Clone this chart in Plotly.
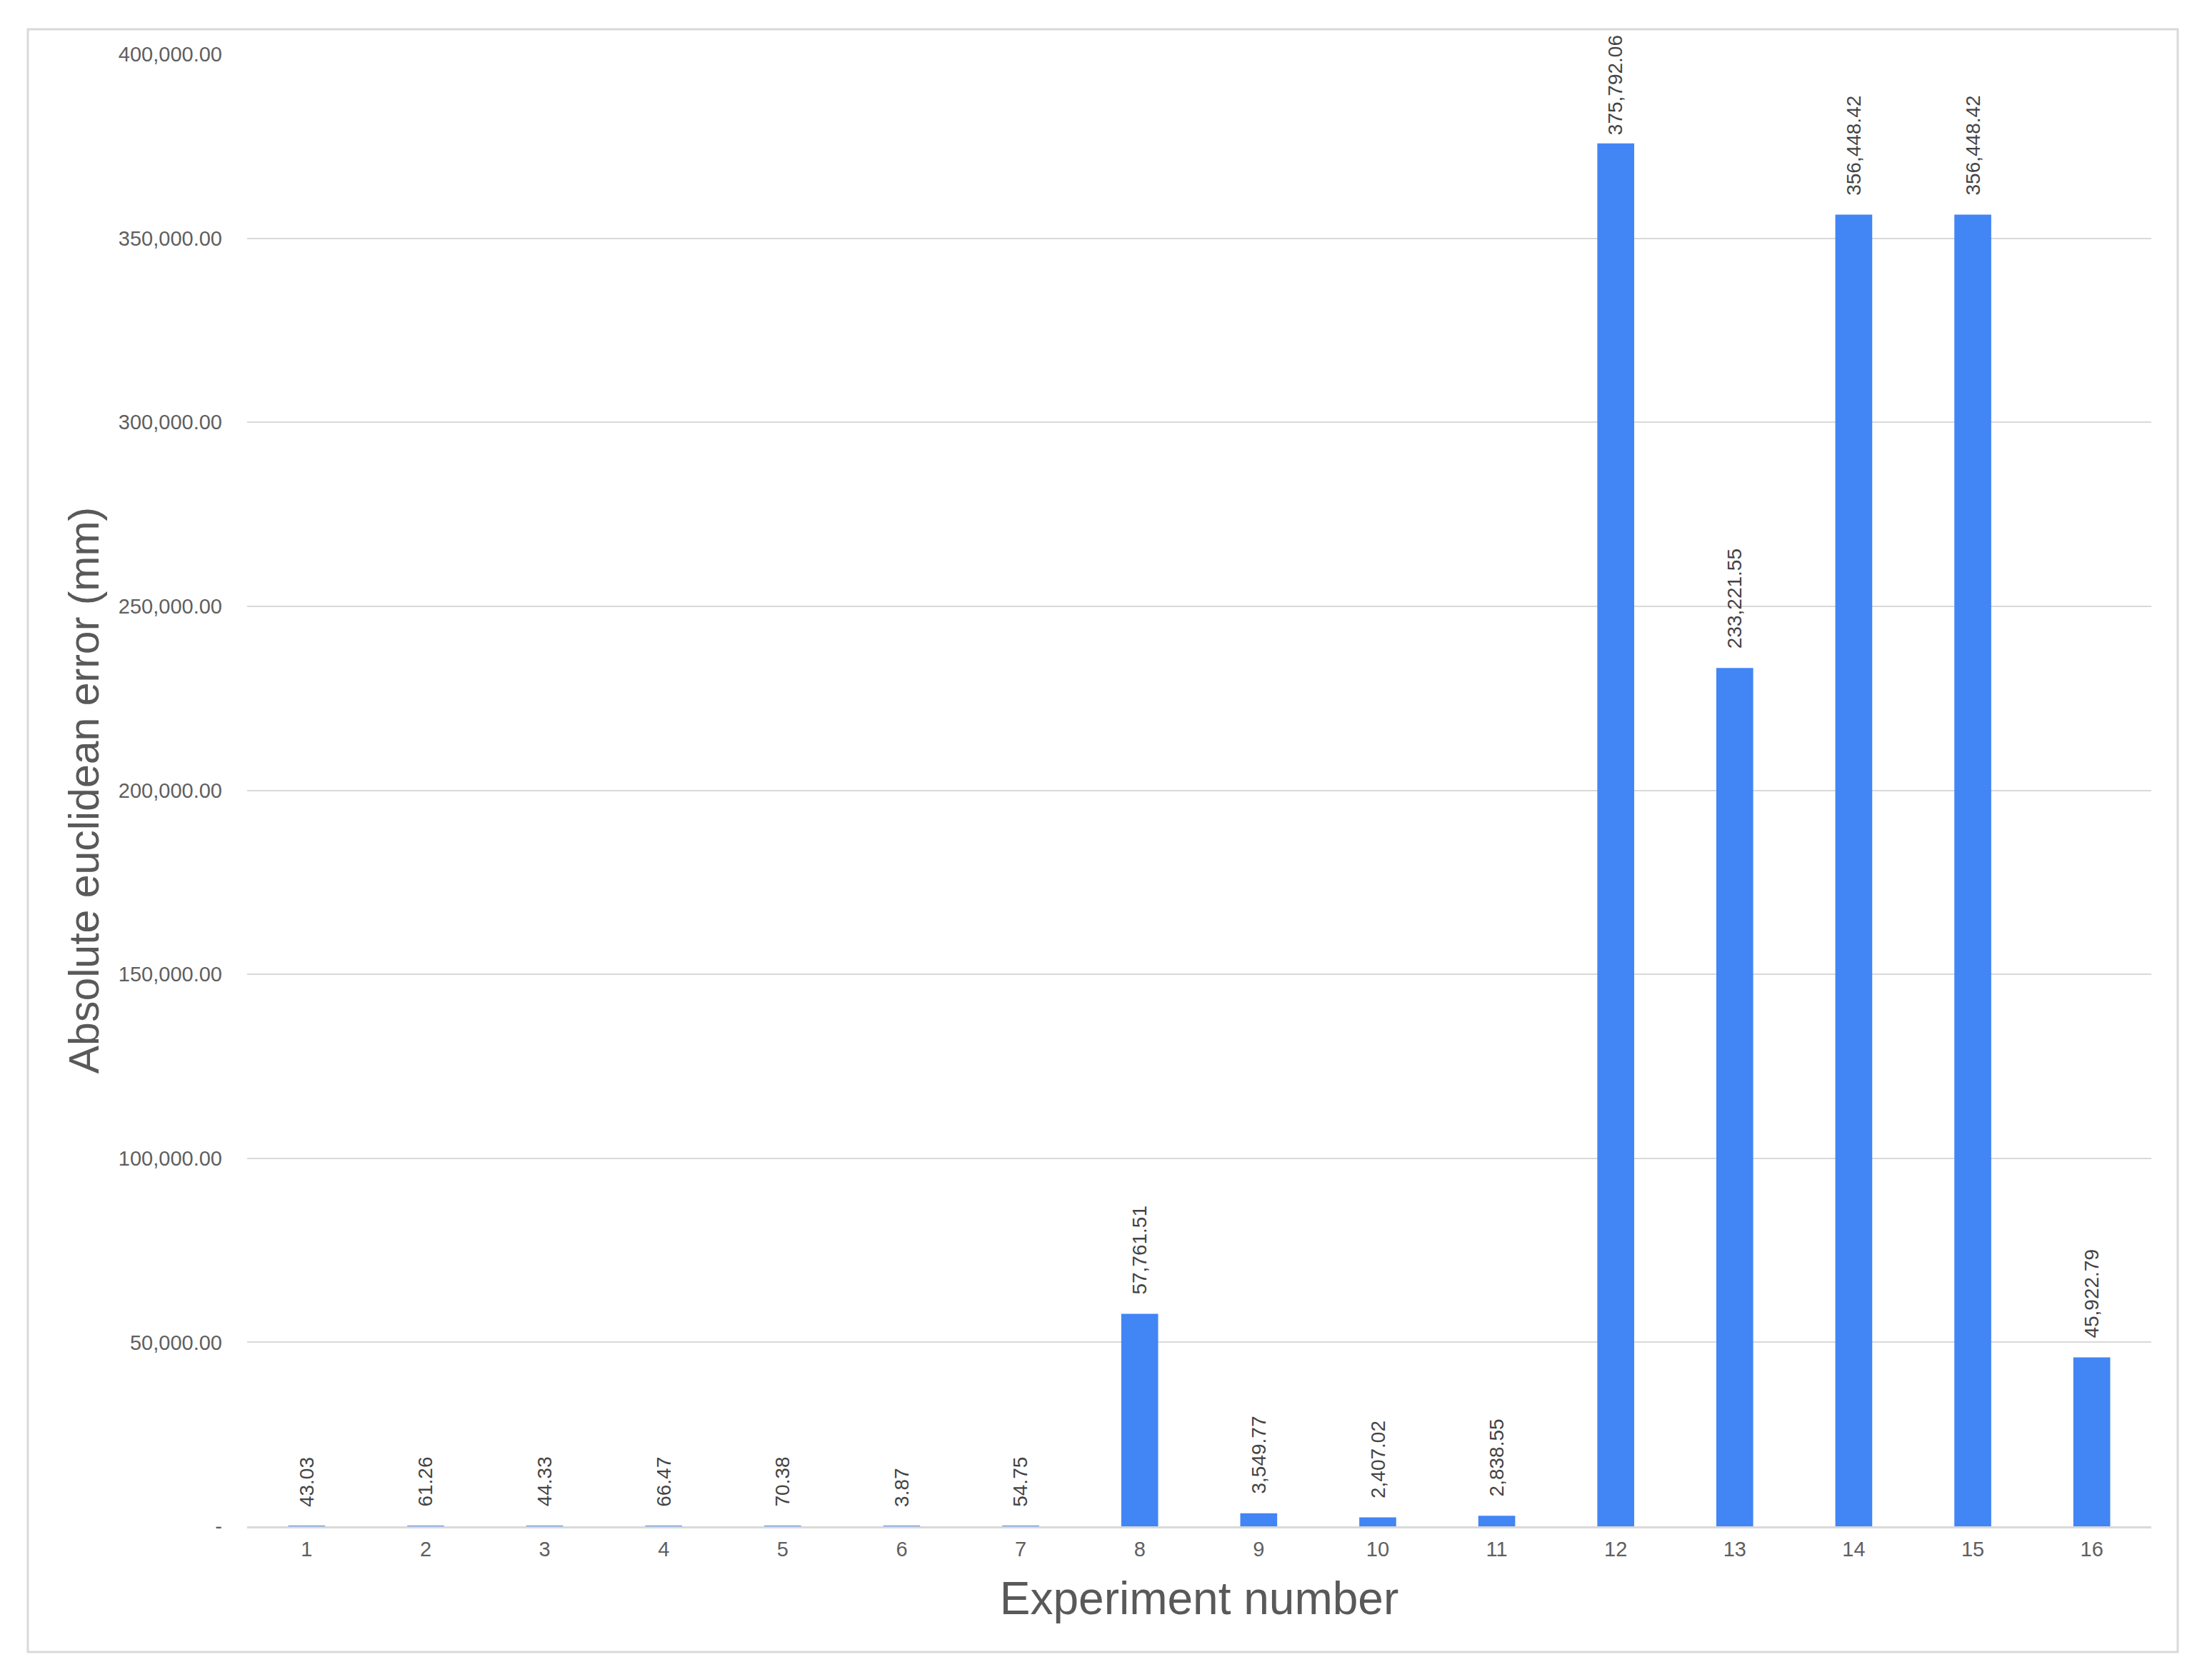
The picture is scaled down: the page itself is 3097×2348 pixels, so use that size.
import plotly.graph_objects as go

experiments = [str(i) for i in range(1, 17)]
errors_mm = [43.03, 61.26, 44.33, 66.47, 70.38, 3.87, 54.75, 57761.51,
             3549.77, 2407.02, 2838.55, 375792.06, 233221.55, 356448.42,
             356448.42, 45922.79]
ytick_vals = [0, 50000, 100000, 150000, 200000, 250000, 300000, 350000, 400000]
ytick_text = ["-"] + [f"{v:,.2f}" for v in ytick_vals[1:]]

W, H = 3097, 2348
ml, mr, mt, mb = 338, 93, 68, 219   # page body adds an 8px offset
grey = "#d9d9d9"
font = "Liberation Sans, Arial, sans-serif"
y_max = 400000

fig = go.Figure()
fig.add_trace(go.Bar(
    x=experiments, y=errors_mm,
    marker=dict(color="#4285F4", line=dict(width=0)),
    hoverinfo="x+y",
))

# value labels, rotated, sitting a little above each bar;
# pushed down toward the bar when they would run past the top of the chart
ph = H - mt - mb
label_len = 140
for i, v in enumerate(errors_mm):
    room = (y_max - v) / y_max * ph + mt - 43 - label_len
    shift = max(4, min(25, room))
    fig.add_annotation(
        x=i, y=v, text=f"{v:,.2f}", textangle=-90,
        showarrow=False, xanchor="center", yanchor="bottom", yshift=shift,
        font=dict(family=font, size=28, color="#444444"),
    )

# outer light-grey frame around the whole chart
pw = W - ml - mr
fig.add_shape(
    type="rect", xref="paper", yref="paper",
    x0=(31 - ml) / pw, x1=(3041 - ml) / pw,
    y0=(H - mb - 2305) / ph, y1=(H - mb - 33) / ph,
    line=dict(color=grey, width=3), fillcolor="rgba(0,0,0,0)", layer="below",
)

fig.update_layout(
    width=W, height=H,
    margin=dict(l=ml, r=mr, t=mt, b=mb, autoexpand=False),
    paper_bgcolor="white", plot_bgcolor="white",
    bargap=0.69, showlegend=False,
    font=dict(family=font, color="#5f5f5f"),
)
fig.update_xaxes(
    type="category", showgrid=False, showline=True, linecolor=grey, linewidth=3,
    ticks="", ticklabelstandoff=4, tickfont=dict(size=29, color="#5f5f5f"),
    title=dict(text="Experiment number", font=dict(size=64, color="#595959"), standoff=32),
    automargin=False,
)
fig.update_yaxes(
    range=[0, y_max], tickvals=ytick_vals, ticktext=ytick_text,
    showgrid=True, gridcolor=grey, gridwidth=2, zeroline=False, showline=False,
    ticks="", ticklabelstandoff=34, tickfont=dict(size=29, color="#5f5f5f"),
    title=dict(text="Absolute euclidean error (mm)", font=dict(size=59, color="#595959"), standoff=8),
    automargin=False,
)

fig.write_html("out.html")
